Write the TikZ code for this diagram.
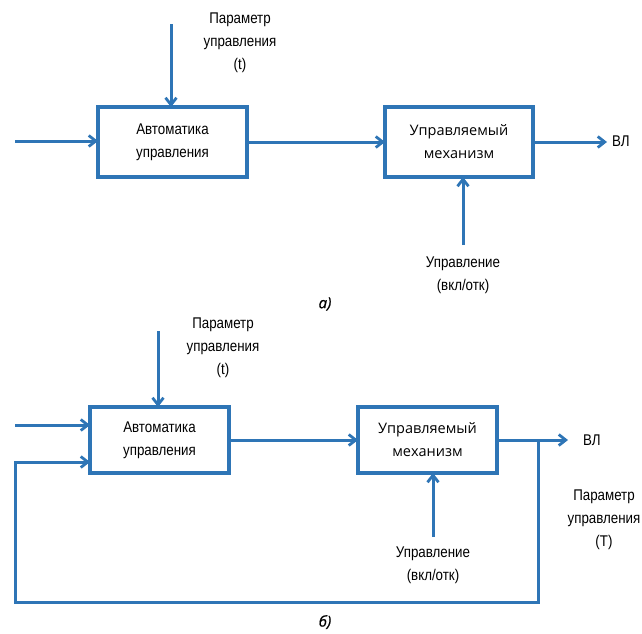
\documentclass[tikz,border=0pt]{standalone}
\usepackage{fontspec}
\setmainfont{Liberation Sans}[FakeStretch=0.86]
\newfontfamily\boxfont{Open Sans}
\newfontfamily\capfont{Open Sans}[FakeBold=0.9]
\usetikzlibrary{arrows.meta}
\definecolor{lblue}{RGB}{46,117,182}
\tikzset{
  conn/.style={draw=lblue, line width=3pt, -{Straight Barb[length=7pt,width=11pt,line width=2.8pt]}},
  blk/.style={draw=lblue, line width=3.2pt, fill=white, rectangle, inner sep=0pt, outer sep=0pt, align=center, font=\fontsize{15.5}{23}\selectfont},
  blkb/.style={blk, font=\boxfont\fontsize{14.5}{23}\selectfont},
  lbl/.style={align=center, font=\fontsize{15.5}{23}\selectfont, inner sep=0pt},
  captext/.style={font=\capfont\itshape\fontsize{15}{16}\selectfont, inner sep=0pt}
}
\begin{document}
\begin{tikzpicture}[x=1pt,y=-1pt]
\useasboundingbox (0,0) rectangle (642,633);
% ---- diagram a) ----
\node[blk, minimum width=149pt, minimum height=70pt] (A1) at (172.5,142) {Автоматика\\управления};
\node[blkb, minimum width=148pt, minimum height=70pt] (B1) at (459,142) {Управляемый\\механизм};
\coordinate (in1) at (15,141);
\coordinate (top1) at (171,24);
\coordinate (out1) at (607,141);
\coordinate (bot1) at (463,245);
\node[lbl] (p1) at (240,43) {Параметр\\управления\\(t)};
\node[lbl, anchor=west] (vl1) at (612,141) {ВЛ};
\node[lbl] (u1) at (463,275) {Управление\\(вкл/отк)};
\node[captext] (ca) at (325,304) {а)};
\draw[conn] (in1) -- (in1 -| A1.west);
\draw[conn] (top1) -- (top1 |- A1.north);
\draw[conn] (A1.east) -- (B1.west);
\draw[conn] (B1.east) -- (B1.east -| out1);
\draw[conn] (bot1) -- (bot1 |- B1.south);
% ---- diagram b) ----
\node[blk, minimum width=139pt, minimum height=66pt] (A2) at (159.5,440) {Автоматика\\управления};
\node[blkb, minimum width=139pt, minimum height=66pt] (B2) at (427.5,440) {Управляемый\\механизм};
\coordinate (in2) at (15,425);
\coordinate (fb) at (15,462);
\coordinate (top2) at (158,331);
\coordinate (out2) at (568,440);
\coordinate (junc) at (538,440);
\coordinate (bl) at (15,602);
\coordinate (bot2) at (433,537);
\node[lbl] (p2) at (223,348) {Параметр\\управления\\(t)};
\node[lbl, anchor=west] (vl2) at (583,440) {ВЛ};
\node[lbl] (u2) at (433,565) {Управление\\(вкл/отк)};
\node[lbl] (p3) at (604,520) {Параметр\\управления\\(T)};
\node[captext] (cb) at (325,622) {б)};
\draw[conn] (in2) -- (in2 -| A2.west);
\draw[conn] (top2) -- (top2 |- A2.north);
\draw[conn] (A2.east) -- (B2.west);
\draw[conn] (B2.east) -- (out2);
\draw[conn] (bot2) -- (bot2 |- B2.south);
\draw[conn] (junc) -- (junc |- bl) -- (bl) -- (fb) -- (fb -| A2.west);
\end{tikzpicture}
\end{document}
